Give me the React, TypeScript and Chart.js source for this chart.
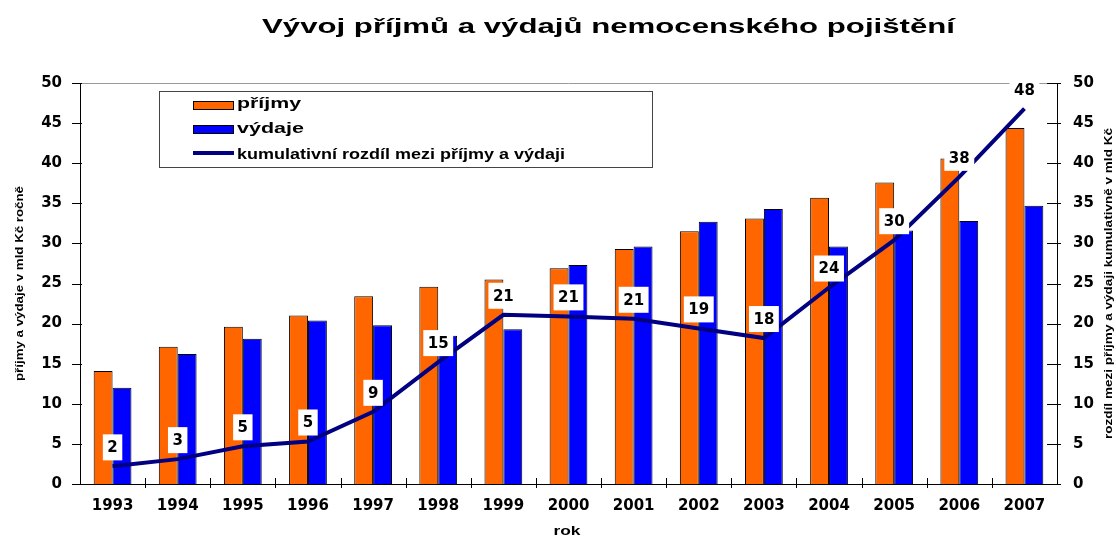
import React, { useEffect, useRef } from "react";
import { Chart, registerables } from "chart.js";

Chart.register(...registerables);

const years = ["1993", "1994", "1995", "1996", "1997", "1998", "1999", "2000", "2001", "2002", "2003", "2004", "2005", "2006", "2007"];
const prijmy = [14.1, 17.1, 19.6, 21.0, 23.4, 24.6, 25.5, 26.9, 29.3, 31.5, 33.1, 35.7, 37.6, 40.6, 44.4];
const vydaje = [12.0, 16.2, 18.1, 20.4, 19.8, 18.5, 19.3, 27.3, 29.6, 32.7, 34.3, 29.6, 31.6, 32.8, 34.7];
const rozdil = [2.2, 3.1, 4.7, 5.3, 9.0, 15.2, 21.1, 20.9, 20.6, 19.4, 18.2, 24.5, 30.4, 38.3, 46.8];
const rozdilLabels = ["2", "3", "5", "5", "9", "15", "21", "21", "21", "19", "18", "24", "30", "38", "48"];
const yTickValues = [0, 5, 10, 15, 20, 25, 30, 35, 40, 45, 50];

const TITLE = "Vývoj příjmů a výdajů nemocenského pojištění";
const LEFT_TITLE = "příjmy a výdaje v mld Kč ročně";
const RIGHT_TITLE = "rozdíl mezi příjmy a výdaji kumulativně v mld Kč";
const X_TITLE = "rok";
const LEG = ["příjmy", "výdaje", "kumulativní rozdíl mezi příjmy a výdaji"];

const ORANGE = "#FF6600";
const BLUE = "#0000FF";
const NAVY = "#000080";
const TICK_FONT = { family: "DejaVu Sans", size: 15, weight: "bold" as const };

function fitText(
  ctx: CanvasRenderingContext2D,
  text: string,
  x: number,
  y: number,
  width: number,
  font: string,
  align: CanvasTextAlign,
  baseline: CanvasTextBaseline,
  rotate = 0
) {
  ctx.save();
  ctx.font = font;
  const w = ctx.measureText(text).width;
  const s = width / w;
  ctx.translate(x, y);
  if (rotate) ctx.rotate(rotate);
  ctx.scale(s, 1);
  ctx.textAlign = align;
  ctx.textBaseline = baseline;
  ctx.fillStyle = "#000";
  ctx.fillText(text, 0, 0);
  ctx.restore();
}

const decorPlugin = {
  id: "decor",
  beforeDatasetsDraw(chart: any) {
    const ctx = chart.ctx as CanvasRenderingContext2D;
    const a = chart.chartArea;
    ctx.save();
    // grey top border of plot area
    ctx.strokeStyle = "#9a9a9a";
    ctx.lineWidth = 1;
    ctx.beginPath();
    ctx.moveTo(a.left, a.top + 0.5);
    ctx.lineTo(a.right, a.top + 0.5);
    ctx.stroke();
    ctx.restore();
  },
  afterDatasetsDraw(chart: any) {
    const ctx = chart.ctx as CanvasRenderingContext2D;
    const a = chart.chartArea;
    const y = chart.scales.y;
    const x = chart.scales.x;
    ctx.save();
    ctx.strokeStyle = "#000";
    ctx.lineWidth = 1;
    // tick marks
    yTickValues.forEach((v) => {
      const py = Math.round(y.getPixelForValue(v)) + 0.5;
      ctx.beginPath();
      ctx.moveTo(a.left - 8, py);
      ctx.lineTo(a.left + 2, py);
      ctx.moveTo(a.right - 10, py);
      ctx.lineTo(a.right + 4, py);
      ctx.stroke();
    });
    for (let i = 0; i < years.length - 1; i++) {
      const px = Math.round((x.getPixelForValue(i) + x.getPixelForValue(i + 1)) / 2) + 0.5;
      ctx.beginPath();
      ctx.moveTo(px, a.bottom - 6);
      ctx.lineTo(px, a.bottom + 4);
      ctx.stroke();
    }

    // value labels on the line
    const meta = chart.getDatasetMeta(2);
    ctx.font = "bold 15px 'DejaVu Sans'";
    ctx.textAlign = "center";
    ctx.textBaseline = "middle";
    meta.data.forEach((pt: any, i: number) => {
      const t = rozdilLabels[i];
      const w = ctx.measureText(t).width + 9;
      const h = 26;
      const cx = pt.x;
      const cy = pt.y - 19;
      ctx.fillStyle = "#fff";
      ctx.fillRect(cx - w / 2, cy - h / 2, w, h);
      ctx.fillStyle = "#000";
      ctx.fillText(t, cx, cy + 1);
    });
    ctx.restore();
  },
  afterDraw(chart: any) {
    const ctx = chart.ctx as CanvasRenderingContext2D;
    // title
    fitText(ctx, TITLE, 608.5, 33, 693, "bold 21px 'Liberation Sans'", "center", "alphabetic");
    // axis titles
    fitText(ctx, LEFT_TITLE, 20, 283.5, 195, "bold 11px 'Liberation Sans'", "center", "middle", -Math.PI / 2);
    fitText(ctx, RIGHT_TITLE, 1109, 283.5, 311, "bold 11px 'Liberation Sans'", "center", "middle", -Math.PI / 2);
    fitText(ctx, X_TITLE, 567, 535, 27, "bold 13px 'Liberation Sans'", "center", "alphabetic");

    // legend
    ctx.save();
    ctx.fillStyle = "#fff";
    ctx.fillRect(159.5, 91.5, 493, 76);
    ctx.strokeStyle = "#444";
    ctx.lineWidth = 1;
    ctx.strokeRect(159.5, 91.5, 493, 76);
    // swatches
    ctx.fillStyle = ORANGE;
    ctx.fillRect(193.5, 101.5, 40, 8);
    ctx.strokeStyle = "#000";
    ctx.strokeRect(193.5, 101.5, 40, 8);
    ctx.fillStyle = BLUE;
    ctx.fillRect(193.5, 125.5, 40, 8);
    ctx.strokeRect(193.5, 125.5, 40, 8);
    ctx.strokeStyle = NAVY;
    ctx.lineWidth = 4;
    ctx.beginPath();
    ctx.moveTo(193, 153);
    ctx.lineTo(234, 153);
    ctx.stroke();
    ctx.restore();
    fitText(ctx, LEG[0], 237, 108, 64, "bold 15px 'Liberation Sans'", "left", "alphabetic");
    fitText(ctx, LEG[1], 237, 133, 67, "bold 15px 'Liberation Sans'", "left", "alphabetic");
    fitText(ctx, LEG[2], 237, 159, 328, "bold 15px 'Liberation Sans'", "left", "alphabetic");
  },
};

export default function App() {
  const ref = useRef<HTMLCanvasElement | null>(null);

  useEffect(() => {
    if (!ref.current) return;
    const chart = new Chart(ref.current, {
      type: "bar",
      data: {
        labels: years,
        datasets: [
          {
            type: "bar",
            label: LEG[0],
            data: prijmy,
            backgroundColor: ORANGE,
            borderColor: "#000",
            borderWidth: 1,
            barPercentage: 1,
            categoryPercentage: 0.58,
            yAxisID: "y",
            order: 1,
          },
          {
            type: "bar",
            label: LEG[1],
            data: vydaje,
            backgroundColor: BLUE,
            borderColor: "#000",
            borderWidth: 1,
            barPercentage: 1,
            categoryPercentage: 0.58,
            yAxisID: "y",
            order: 1,
          },
          {
            type: "line",
            label: LEG[2],
            data: rozdil,
            borderColor: NAVY,
            backgroundColor: NAVY,
            borderWidth: 4,
            pointRadius: 0,
            tension: 0,
            yAxisID: "y2",
            order: 0,
          } as any,
        ],
      },
      options: {
        animation: false,
        responsive: false,
        devicePixelRatio: 1,
        events: [],
        layout: { padding: { top: 83, left: 0, right: 0, bottom: 0 } },
        plugins: {
          legend: { display: false },
          tooltip: { enabled: false },
          title: { display: false },
        },
        scales: {
          x: {
            grid: { display: false, drawTicks: false },
            border: { display: true, color: "#000", width: 1 },
            ticks: { color: "#000", font: TICK_FONT, padding: 13, maxRotation: 0, autoSkip: false },
            afterFit: (s: any) => {
              s.height = 52;
            },
          },
          y: {
            position: "left",
            min: 0,
            max: 50,
            grid: { display: false, drawTicks: false },
            border: { display: true, color: "#000", width: 1 },
            ticks: { stepSize: 5, color: "#000", font: TICK_FONT, padding: 18 },
            afterFit: (s: any) => {
              s.width = 80;
            },
          },
          y2: {
            position: "right",
            min: 0,
            max: 50,
            grid: { display: false, drawTicks: false },
            border: { display: true, color: "#000", width: 1 },
            ticks: { stepSize: 5, color: "#000", font: TICK_FONT, padding: 16 },
            afterFit: (s: any) => {
              s.width = 59;
            },
          },
        },
      } as any,
      plugins: [decorPlugin],
    });
    return () => chart.destroy();
  }, []);

  return (
    <div style={{ position: "absolute", left: 0, top: 0, width: 1116, height: 536, background: "#fff" }}>
      <canvas ref={ref} width={1116} height={536} style={{ display: "block", width: 1116, height: 536 }} />
    </div>
  );
}
